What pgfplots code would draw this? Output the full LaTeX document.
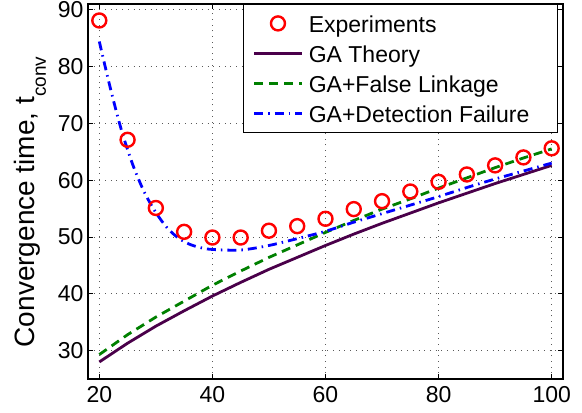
\documentclass[border=0pt]{standalone}
\usepackage{pgfplots}
\pgfplotsset{compat=1.18}
\usepackage{fontspec}
\setmainfont{Liberation Sans}
\definecolor{mpurple}{rgb}{0.29,0.0,0.29}
\definecolor{mgreen}{rgb}{0.0,0.5,0.0}
\begin{document}
\begin{tikzpicture}
\begin{axis}[
  scale only axis,
  width=475pt, height=375pt,
  xmin=18, xmax=102, ymin=25, ymax=91,
  xtick={20,40,60,80,100}, ytick={30,40,50,60,70,80,90},
  tick align=inside, tick pos=both,
  major tick length=5pt,
  axis line style={line width=1.6pt},
  every tick/.style={black, line width=0.8pt},
  grid=major,
  major grid style={black!65, line width=0.9pt, dash pattern=on 0.9pt off 4.8pt},
  /pgf/number format/assume math mode=true,
  tick label style={font=\fontsize{23}{27}\selectfont},
  xticklabel style={yshift=-4pt},
  yticklabel style={xshift=-1pt},
  ylabel={Convergence time, t\raisebox{-11pt}{\fontsize{19}{22}\selectfont conv}},
  every axis y label/.style={at={(axis description cs:-0.1116,0.472)}, rotate=90, anchor=base,
     font=\fontsize{28}{32}\selectfont},
  legend style={at={(axis description cs:1,1)}, xshift=-5pt, anchor=north east,
    draw=black, line width=1.3pt, fill=white,
    font=\fontsize{23}{27}\selectfont, inner xsep=9pt, inner ysep=7.5pt,
    row sep=7.5pt, column sep=5.6pt,
    nodes={inner sep=0pt, text height=20pt, text depth=2.5pt},
    legend cell align=left},
  legend image code/.code={\draw[#1] (0pt,0pt) -- (47.7pt,0pt);},
]
\addplot[only marks, mark=o, red, mark size=7pt, line width=2.4pt,
  legend image code/.code={\path[draw=none] (0pt,0pt) -- (47.7pt,0pt); \draw[only marks, mark=o, mark size=7pt, red, line width=2.4pt] plot coordinates {(23.85pt,0pt)};}] coordinates {
(20,88.1) (25,67.1) (30,55.1) (35,50.9) (40,49.9) (45,49.9) (50,51.1) (55,51.9) (60,53.2) (65,54.9) (70,56.3) (75,58.0) (80,59.7) (85,61.0) (90,62.6) (95,64.0) (100,65.6)};
\addlegendentry{Experiments}
\addplot[mpurple, line width=2.8pt] coordinates {
(20,28.0) (25,31.3) (30,34.3) (35,37.0) (40,39.6) (45,42.0) (50,44.3) (55,46.4) (60,48.5) (65,50.5) (70,52.4) (75,54.2) (80,56.0) (85,57.7) (90,59.4) (95,61.0) (100,62.6)};
\addlegendentry{GA Theory}
\addplot[mgreen, line width=2.8pt, dash pattern=on 9pt off 6pt] coordinates {
(20,29.3) (25,32.8) (30,35.9) (35,38.7) (40,41.5) (45,44.0) (50,46.4) (55,48.6) (60,50.8) (65,52.9) (70,54.9) (75,56.7) (80,58.6) (85,60.4) (90,62.2) (95,63.9) (100,65.5)};
\addlegendentry{GA+False Linkage}
\addplot[blue, line width=2.8pt, dash pattern=on 9pt off 5pt on 1.5pt off 5pt, smooth] coordinates {
(20,84.4) (22,76.0) (24,68.5) (26,62.5) (28,57.8) (30,54.3) (32,51.6) (34,49.8) (36,48.7) (38,48.1) (40,47.8) (45,47.7) (50,48.5) (55,49.7) (60,51.0) (65,52.6) (70,54.1) (75,55.6) (80,57.1) (85,58.7) (90,60.2) (95,61.6) (100,63.0)};
\addlegendentry{GA+Detection Failure\hspace*{19pt}}
\end{axis}
\pgfresetboundingbox
\path[use as bounding box] (-88pt,-34pt) rectangle (494pt,379pt);
\end{tikzpicture}
\end{document}
